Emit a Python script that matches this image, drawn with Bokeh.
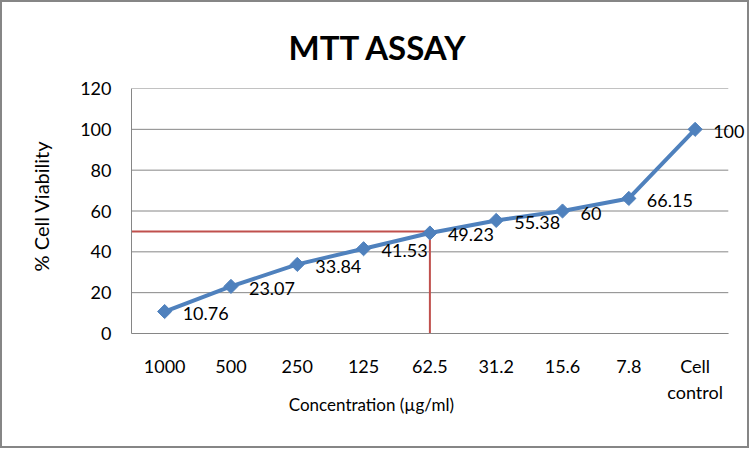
import math
from bokeh.plotting import figure
from bokeh.models import ColumnDataSource, Range1d, LabelSet, FixedTicker
from bokeh.core.properties import value
from bokeh.embed import file_html
from bokeh.resources import INLINE

categories = ["1000", "500", "250", "125", "62.5", "31.2", "15.6", "7.8", "Cell\ncontrol"]
viability = [10.76, 23.07, 33.84, 41.53, 49.23, 55.38, 60, 66.15, 100]
labels = ["10.76", "23.07", "33.84", "41.53", "49.23", "55.38", "60", "66.15", "100"]
ic50_value = 50
ic50_category = "62.5"
y_ticks = [0, 20, 40, 60, 80, 100, 120]

FONT = "Lato"
GRID = "#868686"

# category slots: one unit per category, centre at i + 0.5
x_pos = [i + 0.5 for i in range(len(categories))]
n = len(categories)

p = figure(width=749, height=448, output_backend="svg", toolbar_location=None,
           x_range=Range1d(0, 9.35), y_range=Range1d(0, 120),
           min_border_left=129, min_border_right=0, min_border_top=86, min_border_bottom=117)
p.styles = {"border": "2px solid #868686"}
p.outline_line_color = None
p.background_fill_color = "white"
p.border_fill_color = "white"

# title
p.title.text = "MTT ASSAY"
p.title.text_font = FONT
p.title.text_font_size = "33px"
p.title.text_font_style = "bold"
p.title.text_color = "black"
p.title.align = "left"
p.title.offset = 157
p.title.standoff = 44

# grid lines only across the category slots
p.xgrid.grid_line_color = None
p.ygrid.grid_line_color = None
p.segment(x0=[0] * len(y_ticks), x1=[n] * len(y_ticks), y0=y_ticks, y1=y_ticks,
          line_color=GRID, line_width=1)

p.yaxis.ticker = y_ticks
p.xaxis.ticker = FixedTicker(ticks=x_pos)
p.xaxis.major_label_overrides = {x: c for x, c in zip(x_pos, categories)}
p.xaxis.bounds = (0, n)

for ax in (p.xaxis, p.yaxis):
    ax.axis_line_color = GRID
    ax.major_tick_line_color = None
    ax.minor_tick_line_color = None
    ax.major_label_text_font = FONT
    ax.major_label_text_font_size = "18px"
    ax.major_label_text_color = "black"
    ax.axis_label_text_font = FONT
    ax.axis_label_text_font_style = "normal"
    ax.axis_label_text_color = "black"

# a leading em space nudges the rotated title upward, as in the reference
p.yaxis.axis_label = "\u2003%  Cell Viability"
p.yaxis.axis_label_text_font_size = "20px"
p.yaxis.major_label_standoff = 14
p.yaxis.axis_label_standoff = 24
p.xaxis.major_label_standoff = 15
# trailing em spaces push the centred axis title left, as in the reference
p.xaxis.axis_label = "Concentration (µg/ml)" + "\u2003" * 11
p.xaxis.axis_label_text_font_size = "17px"
p.xaxis.axis_label_standoff = -12

# reference lines at 50 % viability
ic50_x = x_pos[categories.index(ic50_category)]
p.line(x=[0, ic50_x], y=[ic50_value, ic50_value], line_color="#C0504D", line_width=2)
p.line(x=[ic50_x, ic50_x], y=[0, ic50_value], line_color="#C0504D", line_width=2)

src = ColumnDataSource(dict(x=x_pos, y=viability, lab=labels))
p.line("x", "y", source=src, line_color="#4F81BD", line_width=4)
p.scatter("x", "y", source=src, marker="square", size=10, angle=math.pi / 4,
          fill_color="#4F81BD", line_color="#4F81BD", line_width=1)

lbl = LabelSet(x="x", y="y", text="lab", source=src, x_offset=18, y_offset=-2,
               text_font=value(FONT), text_font_size="18px", text_baseline="middle",
               text_color="black")
p.add_layout(lbl)

open("out.html", "w").write(file_html(p, INLINE))
